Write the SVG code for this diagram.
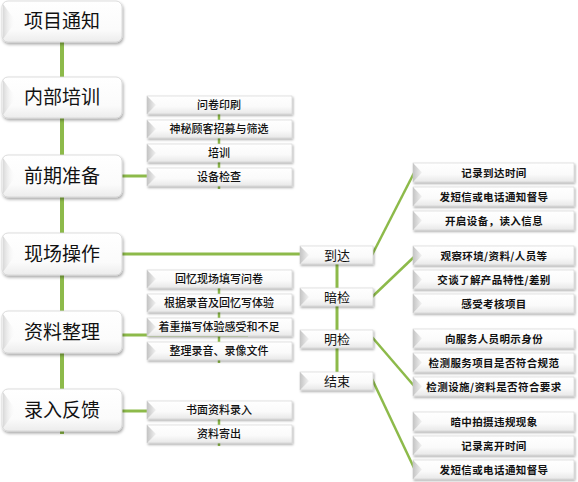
<svg xmlns="http://www.w3.org/2000/svg" width="578" height="482" viewBox="0 0 578 482">
<defs>
<filter id="sh" x="-10%" y="-20%" width="125%" height="160%">
<feDropShadow dx="1" dy="2" stdDeviation="1.6" flood-color="#000" flood-opacity="0.35"/>
</filter>
<filter id="sh2" x="-10%" y="-30%" width="125%" height="180%">
<feDropShadow dx="1" dy="1.5" stdDeviation="1" flood-color="#000" flood-opacity="0.35"/>
</filter>
<linearGradient id="gMain" x1="0" y1="0" x2="0" y2="1">
<stop offset="0" stop-color="#ffffff"/><stop offset="0.7" stop-color="#fbfbfb"/><stop offset="1" stop-color="#ececec"/>
</linearGradient>
<linearGradient id="gSub" x1="0" y1="0" x2="0" y2="1">
<stop offset="0" stop-color="#ffffff"/><stop offset="0.6" stop-color="#fafafa"/><stop offset="1" stop-color="#e8e8e8"/>
</linearGradient>
<linearGradient id="gWedge" x1="0" y1="0" x2="1" y2="0">
<stop offset="0" stop-color="#c4c4c4"/><stop offset="1" stop-color="#f2f2f2"/>
</linearGradient>
<linearGradient id="gWedgeM" x1="0" y1="0" x2="1" y2="0">
<stop offset="0" stop-color="#d8d8d8"/><stop offset="1" stop-color="#ffffff" stop-opacity="0"/>
</linearGradient>
</defs>
<style>
.main{fill:url(#gMain);stroke:#d4d4d4;stroke-width:0.8;filter:url(#sh)}
.sub{fill:url(#gSub);stroke:#d0d0d0;stroke-width:0.6;filter:url(#sh2)}
.w{fill:url(#gWedge)}
.wm{fill:url(#gWedgeM)}
.conn{stroke:#8dba4a;fill:none}
text{font-family:"Noto Sans CJK SC","Noto Sans",sans-serif;fill:#111;text-anchor:middle}
.t1{font-size:19px}
.t2{font-size:11px;font-weight:500}
.t3{font-size:13px}
.t4{font-size:10.5px;font-weight:bold;letter-spacing:0.4px}
</style>

<g id="connectors">
<line class="conn" x1="62" y1="40" x2="62" y2="434" stroke-width="4"/>
<line class="conn" x1="219" y1="110" x2="219" y2="189" stroke-width="2.5"/>
<line class="conn" x1="120" y1="176" x2="150" y2="176" stroke-width="3"/>
<line class="conn" x1="120" y1="254" x2="302" y2="254" stroke-width="3"/>
<line class="conn" x1="219" y1="285" x2="219" y2="363" stroke-width="2.5"/>
<line class="conn" x1="120" y1="335" x2="248" y2="335" stroke-width="3"/>
<line class="conn" x1="219" y1="415" x2="219" y2="446" stroke-width="2.5"/>
<line class="conn" x1="120" y1="411" x2="150" y2="411" stroke-width="3"/>
<line class="conn" x1="337" y1="260" x2="337" y2="378" stroke-width="3"/>
<line class="conn" x1="372" y1="255" x2="415" y2="171" stroke-width="2.5"/>
<line class="conn" x1="372" y1="297" x2="415" y2="256" stroke-width="2.5"/>
<line class="conn" x1="372" y1="337" x2="415" y2="387" stroke-width="2.5"/>
<line class="conn" x1="372" y1="379" x2="415" y2="470" stroke-width="2.5"/>
</g>

<g id="n-xiangmu">
<rect class="main" x="2" y="1" width="120" height="41" rx="6"/>
<polygon class="wm" points="3,4 16,21.5 3,39"/>
<text class="t1" x="62" y="28">项目通知</text>
</g>
<g id="n-neibu">
<rect class="main" x="2" y="77" width="120" height="41" rx="6"/>
<polygon class="wm" points="3,80 16,97.5 3,115"/>
<text class="t1" x="62" y="104">内部培训</text>
</g>
<g id="n-qianqi">
<rect class="main" x="2" y="155" width="120" height="42" rx="6"/>
<polygon class="wm" points="3,158 16,176 3,194"/>
<text class="t1" x="62" y="183">前期准备</text>
</g>
<g id="n-xianchang">
<rect class="main" x="2" y="233" width="120" height="42" rx="6"/>
<polygon class="wm" points="3,236 16,254 3,272"/>
<text class="t1" x="62" y="261">现场操作</text>
</g>
<g id="n-ziliao">
<rect class="main" x="2" y="311" width="120" height="42" rx="6"/>
<polygon class="wm" points="3,314 16,332 3,350"/>
<text class="t1" x="62" y="339">资料整理</text>
</g>
<g id="n-luru">
<rect class="main" x="2" y="389" width="120" height="42" rx="6"/>
<polygon class="wm" points="3,392 16,410 3,428"/>
<text class="t1" x="62" y="417">录入反馈</text>
</g>

<g id="s-wenjuan"><rect class="sub" x="147" y="96" width="145" height="18"/><polygon class="w" points="147,96 156,105 147,114"/><text class="t2" x="219" y="109">问卷印刷</text></g>
<g id="s-shenmi"><rect class="sub" x="147" y="120" width="145" height="18"/><polygon class="w" points="147,120 156,129 147,138"/><text class="t2" x="219" y="133">神秘顾客招募与筛选</text></g>
<g id="s-peixun"><rect class="sub" x="147" y="144" width="145" height="18"/><polygon class="w" points="147,144 156,153 147,162"/><text class="t2" x="219" y="157">培训</text></g>
<g id="s-shebei"><rect class="sub" x="147" y="168" width="145" height="18"/><polygon class="w" points="147,168 156,177 147,186"/><text class="t2" x="219" y="181">设备检查</text></g>

<g id="s-huiyi"><rect class="sub" x="147" y="270" width="145" height="18"/><polygon class="w" points="147,270 156,279 147,288"/><text class="t2" x="219" y="283">回忆现场填写问卷</text></g>
<g id="s-genju"><rect class="sub" x="147" y="294" width="145" height="18"/><polygon class="w" points="147,294 156,303 147,312"/><text class="t2" x="219" y="307">根据录音及回忆写体验</text></g>
<g id="s-zhezhong"><rect class="sub" x="147" y="318" width="145" height="18"/><polygon class="w" points="147,318 156,327 147,336"/><text class="t2" x="219" y="331">着重描写体验感受和不足</text></g>
<g id="s-zhengli"><rect class="sub" x="147" y="342" width="145" height="18"/><polygon class="w" points="147,342 156,351 147,360"/><text class="t2" x="219" y="355">整理录音、录像文件</text></g>

<g id="s-shumian"><rect class="sub" x="147" y="401" width="145" height="18"/><polygon class="w" points="147,401 156,410 147,419"/><text class="t2" x="219" y="414">书面资料录入</text></g>
<g id="s-jichu"><rect class="sub" x="147" y="425" width="145" height="18"/><polygon class="w" points="147,425 156,434 147,443"/><text class="t2" x="219" y="438">资料寄出</text></g>

<g id="m-daoda"><rect class="sub" x="300" y="246" width="73" height="18"/><polygon class="w" points="300,246 309,255 300,264"/><text class="t3" x="337" y="260">到达</text></g>
<g id="m-anjian"><rect class="sub" x="300" y="288" width="73" height="18"/><polygon class="w" points="300,288 309,297 300,306"/><text class="t3" x="337" y="302">暗检</text></g>
<g id="m-mingjian"><rect class="sub" x="300" y="330" width="73" height="18"/><polygon class="w" points="300,330 309,339 300,348"/><text class="t3" x="337" y="344">明检</text></g>
<g id="m-jieshu"><rect class="sub" x="300" y="372" width="73" height="18"/><polygon class="w" points="300,372 309,381 300,390"/><text class="t3" x="337" y="386">结束</text></g>

<g id="r1"><rect class="sub" x="413" y="163" width="161" height="19"/><polygon class="w" points="413,163 422,172.5 413,182"/><text class="t4" x="494" y="176.5">记录到达时间</text></g>
<g id="r2"><rect class="sub" x="413" y="187" width="161" height="19"/><polygon class="w" points="413,187 422,196.5 413,206"/><text class="t4" x="494" y="200.5">发短信或电话通知督导</text></g>
<g id="r3"><rect class="sub" x="413" y="211" width="161" height="19"/><polygon class="w" points="413,211 422,220.5 413,230"/><text class="t4" x="494" y="224.5">开启设备，读入信息</text></g>
<g id="r4"><rect class="sub" x="413" y="246" width="161" height="19"/><polygon class="w" points="413,246 422,255.5 413,265"/><text class="t4" x="494" y="259.5">观察环境/资料/人员等</text></g>
<g id="r5"><rect class="sub" x="413" y="270" width="161" height="19"/><polygon class="w" points="413,270 422,279.5 413,289"/><text class="t4" x="494" y="283.5">交谈了解产品特性/差别</text></g>
<g id="r6"><rect class="sub" x="413" y="294" width="161" height="19"/><polygon class="w" points="413,294 422,303.5 413,313"/><text class="t4" x="494" y="307.5">感受考核项目</text></g>
<g id="r7"><rect class="sub" x="413" y="329" width="161" height="19"/><polygon class="w" points="413,329 422,338.5 413,348"/><text class="t4" x="494" y="342.5">向服务人员明示身份</text></g>
<g id="r8"><rect class="sub" x="413" y="353" width="161" height="19"/><polygon class="w" points="413,353 422,362.5 413,372"/><text class="t4" x="494" y="366.5">检测服务项目是否符合规范</text></g>
<g id="r9"><rect class="sub" x="413" y="377" width="161" height="19"/><polygon class="w" points="413,377 422,386.5 413,396"/><text class="t4" x="494" y="390.5">检测设施/资料是否符合要求</text></g>
<g id="r10"><rect class="sub" x="413" y="412" width="161" height="19"/><polygon class="w" points="413,412 422,421.5 413,431"/><text class="t4" x="494" y="425.5">暗中拍摄违规现象</text></g>
<g id="r11"><rect class="sub" x="413" y="436" width="161" height="19"/><polygon class="w" points="413,436 422,445.5 413,455"/><text class="t4" x="494" y="449.5">记录离开时间</text></g>
<g id="r12"><rect class="sub" x="413" y="460" width="161" height="19"/><polygon class="w" points="413,460 422,469.5 413,479"/><text class="t4" x="494" y="473.5">发短信或电话通知督导</text></g>
</svg>
